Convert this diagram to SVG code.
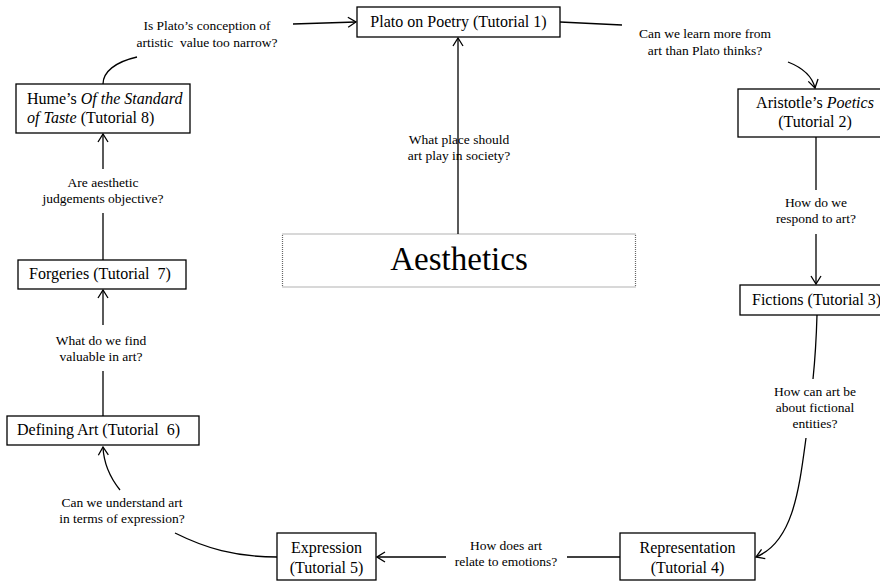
<svg xmlns="http://www.w3.org/2000/svg" width="880" height="582" viewBox="0 0 880 582">
  <defs>
    <style>
      .box { fill: #fff; stroke: #000; stroke-width: 1.3; }
      .hub { fill: #fff; stroke: #666; stroke-width: 1.2; stroke-dasharray: 1 1; }
      .edge { fill: none; stroke: #000; stroke-width: 1.3; }
      .node { font-family: "Liberation Serif", "Times New Roman", serif; font-size: 16px; fill: #000; white-space: pre; }
      .lbl { font-family: "Liberation Serif", "Times New Roman", serif; font-size: 13.5px; fill: #000; text-anchor: middle; white-space: pre; }
      .title { font-family: "Liberation Serif", "Times New Roman", serif; font-size: 33px; fill: #000; text-anchor: middle; }
      .c { text-anchor: middle; }
      .i { font-style: italic; }
    </style>
    <marker id="arr" viewBox="0 0 10 12" refX="9" refY="6" markerWidth="10" markerHeight="12" markerUnits="userSpaceOnUse" orient="auto">
      <path d="M1,1 L9,6 L1,11" fill="none" stroke="#000" stroke-width="1.3"/>
    </marker>
  </defs>

  <rect width="880" height="582" fill="#fff"/>

  <g id="node-aesthetics">
    <rect class="hub" x="282.5" y="234" width="353" height="53"/>
    <text class="title" x="459" y="270">Aesthetics</text>
  </g>

  <g id="connectors">
    <!-- Aesthetics -> Plato -->
    <path class="edge" d="M458,234 L458,38" marker-end="url(#arr)"/>
    <!-- Plato -> Aristotle -->
    <path class="edge" d="M560,22 L622,25"/>
    <path class="edge" d="M788,62 Q811,71 815,88" marker-end="url(#arr)"/>
    <!-- Aristotle -> Fictions -->
    <path class="edge" d="M816,137 L816,190"/>
    <path class="edge" d="M816,234 L816,284" marker-end="url(#arr)"/>
    <!-- Fictions -> Representation -->
    <path class="edge" d="M817,315 Q816,350 813,379"/>
    <path class="edge" d="M806,438 C799,490 793,542 756,557" marker-end="url(#arr)"/>
    <!-- Representation -> Expression -->
    <path class="edge" d="M620,557 L567,557"/>
    <path class="edge" d="M446,557 L377,557" marker-end="url(#arr)"/>
    <!-- Expression -> Defining Art -->
    <path class="edge" d="M277,557 C235,557 205,548 175,533"/>
    <path class="edge" d="M120,490 Q104,470 103,447" marker-end="url(#arr)"/>
    <!-- Defining Art -> Forgeries -->
    <path class="edge" d="M103,416 L103,371"/>
    <path class="edge" d="M103,325 L103,290" marker-end="url(#arr)"/>
    <!-- Forgeries -> Hume -->
    <path class="edge" d="M103,260 L103,213"/>
    <path class="edge" d="M103,169 L103,134" marker-end="url(#arr)"/>
    <!-- Hume -> Plato -->
    <path class="edge" d="M103,84 C103,72 115,62 137,57"/>
    <path class="edge" d="M293,24 L356,22" marker-end="url(#arr)"/>
  </g>

  <g id="labels">
    <text class="lbl" x="459" y="144">What place should</text>
    <text class="lbl" x="459" y="160">art play in society?</text>
    <text class="lbl" x="705" y="38">Can we learn more from</text>
    <text class="lbl" x="705" y="55">art than Plato thinks?</text>
    <text class="lbl" x="816" y="207">How do we</text>
    <text class="lbl" x="816" y="223">respond to art?</text>
    <text class="lbl" x="815" y="396">How can art be</text>
    <text class="lbl" x="815" y="412">about fictional</text>
    <text class="lbl" x="815" y="428">entities?</text>
    <text class="lbl" x="506" y="550">How does art</text>
    <text class="lbl" x="506" y="566">relate to emotions?</text>
    <text class="lbl" x="122" y="507">Can we understand art</text>
    <text class="lbl" x="122" y="523">in terms of expression?</text>
    <text class="lbl" x="101" y="345">What do we find</text>
    <text class="lbl" x="101" y="361">valuable in art?</text>
    <text class="lbl" x="103" y="187">Are aesthetic</text>
    <text class="lbl" x="103" y="203">judgements objective?</text>
    <text class="lbl" x="207" y="30">Is Plato’s conception of</text>
    <text class="lbl" x="207" y="47">artistic  value too narrow?</text>
  </g>

  <g id="node-plato">
    <rect class="box" x="357" y="7" width="203" height="30"/>
    <text class="node c" x="458.5" y="27">Plato on Poetry (Tutorial 1)</text>
  </g>

  <g id="node-aristotle">
    <rect class="box" x="738" y="89" width="160" height="48"/>
    <text class="node c" x="815" y="108">Aristotle’s <tspan class="i">Poetics</tspan></text>
    <text class="node c" x="815" y="127">(Tutorial 2)</text>
  </g>

  <g id="node-fictions">
    <rect class="box" x="740" y="285" width="160" height="30"/>
    <text class="node" x="752" y="305">Fictions (Tutorial 3)</text>
  </g>

  <g id="node-representation">
    <rect class="box" x="620" y="533" width="135" height="47"/>
    <text class="node c" x="687.5" y="553">Representation</text>
    <text class="node c" x="687.5" y="573">(Tutorial 4)</text>
  </g>

  <g id="node-expression">
    <rect class="box" x="277" y="533" width="99" height="47"/>
    <text class="node c" x="326.5" y="553">Expression</text>
    <text class="node c" x="326.5" y="573">(Tutorial 5)</text>
  </g>

  <g id="node-defining">
    <rect class="box" x="7" y="416" width="192" height="29"/>
    <text class="node" x="17" y="435">Defining Art (Tutorial  6)</text>
  </g>

  <g id="node-forgeries">
    <rect class="box" x="18" y="260" width="168" height="29"/>
    <text class="node" x="29" y="279">Forgeries (Tutorial  7)</text>
  </g>

  <g id="node-hume">
    <rect class="box" x="16" y="84" width="174" height="49"/>
    <text class="node" x="27" y="104">Hume’s <tspan class="i">Of the Standard</tspan></text>
    <text class="node" x="27" y="123"><tspan class="i">of Taste</tspan> (Tutorial 8)</text>
  </g>
</svg>
